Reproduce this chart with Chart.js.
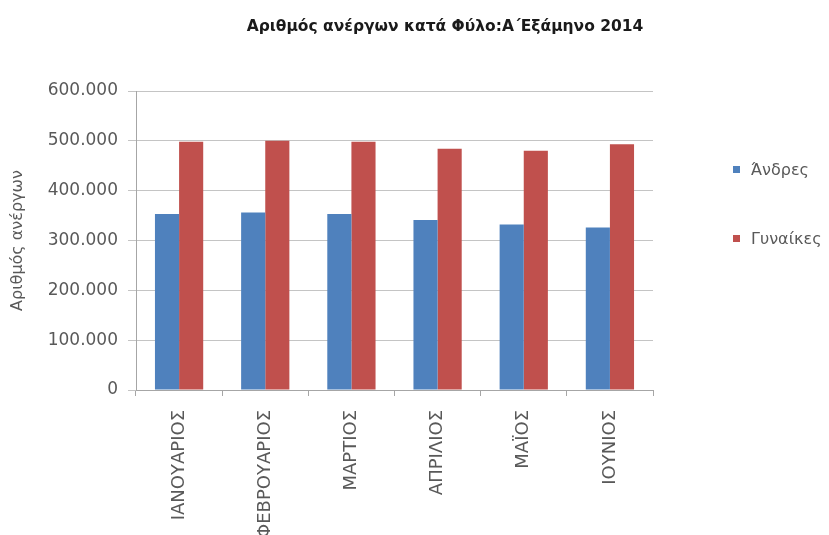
<!DOCTYPE html>
<html>
<head>
<meta charset="utf-8">
<script src="https://cdn.jsdelivr.net/npm/chart.js@4"></script>
<style>
  body { margin: 0; background: #fff; }
  .wrap { position: relative; width: 829px; height: 535px; font-family: "DejaVu Sans", sans-serif; }
  .chart-title { position: absolute; top: 17px; left: 245px; width: 400px; text-align: center;
    font-weight: bold; font-size: 15.5px; color: #1a1a1a; white-space: nowrap; }
  .legend { position: absolute; left: 733px; top: 0; font-size: 16px; color: #595959; }
  .legend-item { position: absolute; left: 0; white-space: nowrap; display: flex; align-items: center; }
  .legend-item span.box { display: inline-block; width: 7px; height: 7px; margin-right: 11px; }
</style>
</head>
<body>
<div class="wrap">
  <canvas id="unemployedChart" width="829" height="535"></canvas>
  <div class="chart-title">Αριθμός ανέργων κατά Φύλο:Α΄Εξάμηνο 2014</div>
  <div class="legend" id="legend"></div>
</div>
<script>
const months = ['ΙΑΝΟΥΑΡΙΟΣ', 'ΦΕΒΡΟΥΑΡΙΟΣ', 'ΜΑΡΤΙΟΣ', 'ΑΠΡΙΛΙΟΣ', 'ΜΑΪΟΣ', 'ΙΟΥΝΙΟΣ'];
const men = [353000, 356000, 353000, 341000, 332000, 326000];
const women = [498000, 500000, 498000, 484000, 480000, 493000];
const seriesNames = ['Άνδρες', 'Γυναίκες'];
const seriesColors = ['#4f81bd', '#c0504d'];
const yTicks = [0, 100000, 200000, 300000, 400000, 500000, 600000];

function formatThousands(v) {
    return v.toString().replace(/\B(?=(\d{3})+(?!\d))/g, '.');
}

// simple html legend, placed like the original
const legendEl = document.getElementById('legend');
seriesNames.forEach((name, i) => {
    const item = document.createElement('div');
    item.className = 'legend-item';
    item.style.top = (i === 0 ? 160 : 229) + 'px';
    item.innerHTML = '<span class="box" style="background:' + seriesColors[i] + '"></span>' + name;
    legendEl.appendChild(item);
});

const ctx = document.getElementById('unemployedChart').getContext('2d');

new Chart(ctx, {
    type: 'bar',
    data: {
        labels: months,
        datasets: [
            { label: seriesNames[0], data: men, backgroundColor: seriesColors[0] },
            { label: seriesNames[1], data: women, backgroundColor: seriesColors[1] }
        ]
    },
    options: {
        responsive: false,
        animation: false,
        layout: { padding: { left: 4, right: 176, top: 91, bottom: 0 } },
        plugins: {
            legend: { display: false },
            tooltip: { enabled: false }
        },
        datasets: {
            bar: { categoryPercentage: 0.56, barPercentage: 1.0 }
        },
        scales: {
            x: {
                grid: { offset: true, drawOnChartArea: false, tickLength: 6, color: '#a6a6a6' },
                border: { color: '#a6a6a6' },
                ticks: {
                    maxRotation: 90, minRotation: 90, padding: 14,
                    color: '#595959',
                    font: { family: 'DejaVu Sans', size: 18 }
                },
                afterFit: (scale) => { scale.height = 535 - 390; }
            },
            y: {
                min: 0,
                max: 600000,
                afterBuildTicks: (scale) => { scale.ticks = yTicks.map(v => ({ value: v })); },
                grid: { color: '#c4c4c4', tickLength: 8 },
                border: { color: '#a6a6a6' },
                ticks: {
                    padding: 10,
                    color: '#595959',
                    font: { family: 'DejaVu Sans', size: 17 },
                    callback: (v) => formatThousands(v)
                },
                title: {
                    display: true,
                    text: 'Αριθμός ανέργων',
                    color: '#595959',
                    font: { family: 'DejaVu Sans', size: 16 },
                    padding: { top: 4, bottom: 4 }
                },
                afterFit: (scale) => { scale.width = 136 - 4; }
            }
        }
    }
});
</script>
</body>
</html>
